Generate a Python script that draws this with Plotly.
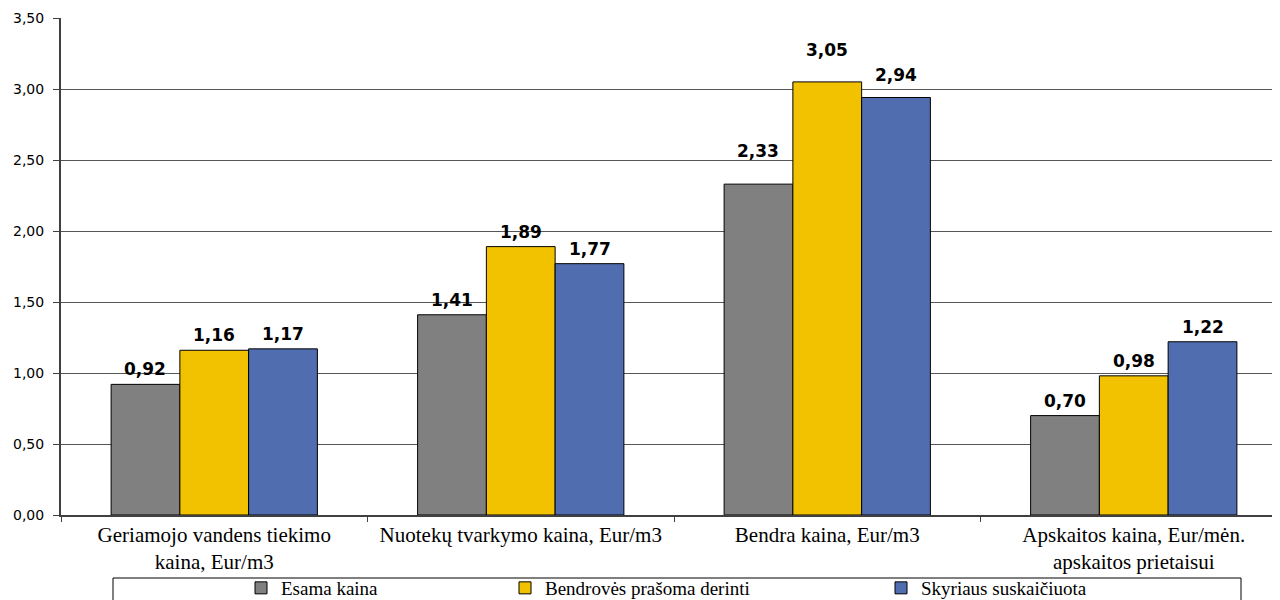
import plotly.graph_objects as go

categories = ["Geriamojo vandens tiekimo<br>kaina, Eur/m3",
              "Nuotekų tvarkymo kaina, Eur/m3",
              "Bendra kaina, Eur/m3",
              "Apskaitos kaina, Eur/mėn.<br>apskaitos prietaisui"]
series_names = ["Esama kaina", "Bendrovės prašoma derinti", "Skyriaus suskaičiuota"]
esama = [0.92, 1.41, 2.33, 0.70]
bendroves = [1.16, 1.89, 3.05, 0.98]
skyriaus = [1.17, 1.77, 2.94, 1.22]
colors = ["#808080", "#F2C200", "#506DB0"]
# extra lift (px) of individual value labels, as placed in the original
label_lift = [[0, 0, 18, 0], [0, 0, 17, 0], [0, 0, 8, 0]]

# page body has an 8px margin: figure coordinates are shifted by -8px
W, H = 1272, 592
L, R, T, B = 53, 3, 10, 85
PW = W - L - R
PH = H - T - B
BARGAP = 0.327
XSPAN = 1216 / 306.5
slot_px = PW / XSPAN
bar_px = slot_px * (1 - BARGAP) / 3

def px(xs):
    return (xs - 8 - L) / PW

def py(ys):
    return (H - B - (ys - 8)) / PH

legend_names = ["legend", "legend2", "legend3"]
text_starts = [281, 545, 921]

fig = go.Figure()
all_vals = [esama, bendroves, skyriaus]
for name, vals, col, lg in zip(series_names, all_vals, colors, legend_names):
    fig.add_trace(go.Bar(
        x=categories, y=vals, name=name, legend=lg,
        marker=dict(color=col, line=dict(color="black", width=1)),
    ))

for j, vals in enumerate(all_vals):
    for i, (cat, v) in enumerate(zip(categories, vals)):
        fig.add_annotation(
            x=cat, y=v, xref="x", yref="y", text=f"{v:.2f}".replace(".", ","),
            showarrow=False, xanchor="center", yanchor="bottom",
            xshift=(j - 1) * bar_px, yshift=3 + label_lift[j][i],
            font=dict(family="DejaVu Sans", size=17, color="black", weight="bold"),
        )

leg_font = dict(family="Liberation Serif", size=19, color="black")
leg_common = dict(orientation="h", yanchor="top", xanchor="left", font=leg_font,
                  borderwidth=0, bgcolor="rgba(0,0,0,0)")

fig.update_layout(
    width=W, height=H,
    margin=dict(l=L, r=R, t=T, b=B, autoexpand=False),
    paper_bgcolor="white", plot_bgcolor="white",
    barmode="group", bargap=BARGAP, bargroupgap=0,
    separators=", ",
    showlegend=True,
    legend=dict(x=px(text_starts[0] - 40), y=py(569), **leg_common),
    legend2=dict(x=px(text_starts[1] - 40), y=py(569), **leg_common),
    legend3=dict(x=px(text_starts[2] - 40), y=py(569), **leg_common),
    xaxis=dict(range=[-0.5, -0.5 + XSPAN], tickson="boundaries", ticks="outside",
               ticklen=5, tickcolor="#404040", automargin=False,
               showline=True, linecolor="#404040", linewidth=1.5,
               tickfont=dict(family="Liberation Serif", size=21, color="black")),
    yaxis=dict(range=[0, 3.5], dtick=0.5, tickformat=".2f", ticks="outside", ticklen=6,
               tickcolor="#404040", showline=True, linecolor="#404040", linewidth=2,
               showgrid=True, gridcolor="#555555", gridwidth=1, zeroline=False,
               automargin=False, ticklabelstandoff=6,
               tickfont=dict(family="DejaVu Sans", size=14, color="black")),
)
fig.add_shape(type="rect", xref="paper", yref="paper",
              x0=px(113), x1=px(1241), y0=py(640), y1=py(578),
              line=dict(color="black", width=1), fillcolor="rgba(0,0,0,0)")

fig.write_html("out.html")
